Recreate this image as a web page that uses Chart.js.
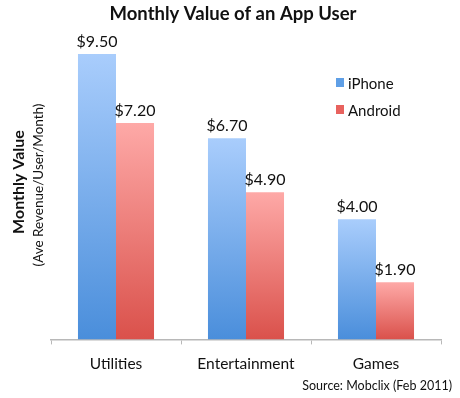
<!DOCTYPE html>
<html>
<head>
<meta charset="utf-8">
<script src="https://cdn.jsdelivr.net/npm/chart.js@4"></script>
<style>
  html, body { margin: 0; padding: 0; background: #fff; }
  #wrap { width: 460px; height: 398px; position: relative; }
</style>
</head>
<body>
<div id="wrap"><canvas id="chart"></canvas></div>
<script>
const categories = ['Utilities', 'Entertainment', 'Games'];
const iphoneValues = [9.5, 6.7, 4.0];
const androidValues = [7.2, 4.9, 1.9];
const seriesNames = ['iPhone', 'Android'];

const titleText = 'Monthly Value of an App User';
const yTitleMain = 'Monthly Value';
const yTitleSub = '(Ave Revenue/User/Month)';
const sourceText = 'Source: Mobclix (Feb 2011)';

const fontFamily = 'Lato, "Open Sans", sans-serif';

// per-bar vertical gradient, light at the top, darker at the base
function barGradient(top, bottom) {
    return (context) => {
        const chart = context.chart;
        const yScale = chart.scales.y;
        if (!chart.chartArea || !yScale || context.raw === undefined) return bottom;
        const y0 = yScale.getPixelForValue(context.raw);
        const y1 = yScale.getPixelForValue(0);
        const g = chart.ctx.createLinearGradient(0, y0, 0, y1);
        g.addColorStop(0, top);
        g.addColorStop(1, bottom);
        return g;
    };
}

const extras = {
    id: 'extras',
    afterDatasetsDraw(chart) {
        const ctx = chart.ctx;
        ctx.save();
        ctx.fillStyle = '#111';
        ctx.textAlign = 'center';
        ctx.textBaseline = 'bottom';
        ctx.font = '16px ' + fontFamily;
        chart.data.datasets.forEach((ds, i) => {
            chart.getDatasetMeta(i).data.forEach((bar, j) => {
                ctx.fillText('$' + ds.data[j].toFixed(2), bar.x, bar.y - 4);
            });
        });

        // title
        ctx.font = 'bold 18.5px ' + fontFamily;
        ctx.textBaseline = 'middle';
        ctx.fillText(titleText, 233, 14);

        // y title (two lines, rotated)
        ctx.save();
        ctx.translate(19, 182);
        ctx.rotate(-Math.PI / 2);
        ctx.font = 'bold 16px ' + fontFamily;
        ctx.fillText(yTitleMain, 0, 0);
        ctx.restore();
        ctx.save();
        ctx.translate(39, 185);
        ctx.rotate(-Math.PI / 2);
        ctx.font = '13.5px ' + fontFamily;
        ctx.fillText(yTitleSub, 0, 0);
        ctx.restore();

        // legend
        const swatches = ['#5f9fe6', '#e8625e'];
        ctx.textAlign = 'left';
        ctx.font = '15px ' + fontFamily;
        seriesNames.forEach((name, i) => {
            const y = 84 + i * 27;
            ctx.fillStyle = swatches[i];
            ctx.fillRect(336, y - 6, 8, 9);
            ctx.fillStyle = '#111';
            ctx.fillText(name, 348, y);
        });

        // source
        ctx.textAlign = 'right';
        ctx.font = '12.5px ' + fontFamily;
        ctx.fillText(sourceText, 452, 386);
        ctx.restore();
    }
};

new Chart(document.getElementById('chart'), {
    type: 'bar',
    data: {
        labels: categories,
        datasets: [
            {
                label: seriesNames[0],
                data: iphoneValues,
                backgroundColor: barGradient('#a9cdfc', '#4a8edb'),
                categoryPercentage: 0.585,
                barPercentage: 1,
            },
            {
                label: seriesNames[1],
                data: androidValues,
                backgroundColor: barGradient('#fea9a7', '#da514b'),
                categoryPercentage: 0.585,
                barPercentage: 1,
            },
        ],
    },
    options: {
        responsive: true,
        maintainAspectRatio: false,
        animation: false,
        layout: {
            padding: { left: 51, right: 19, top: 39, bottom: 15 },
        },
        scales: {
            y: {
                display: false,
                min: 0,
                max: 10,
            },
            x: {
                grid: {
                    drawOnChartArea: false,
                    tickLength: 5,
                    color: '#b8b8b8',
                },
                border: { color: '#b8b8b8', width: 1.5 },
                ticks: {
                    font: { family: fontFamily, size: 15.5 },
                    color: '#111',
                    padding: 10,
                },
            },
        },
        plugins: {
            legend: { display: false },
            tooltip: { enabled: false },
        },
    },
    plugins: [extras],
});
</script>
</body>
</html>
